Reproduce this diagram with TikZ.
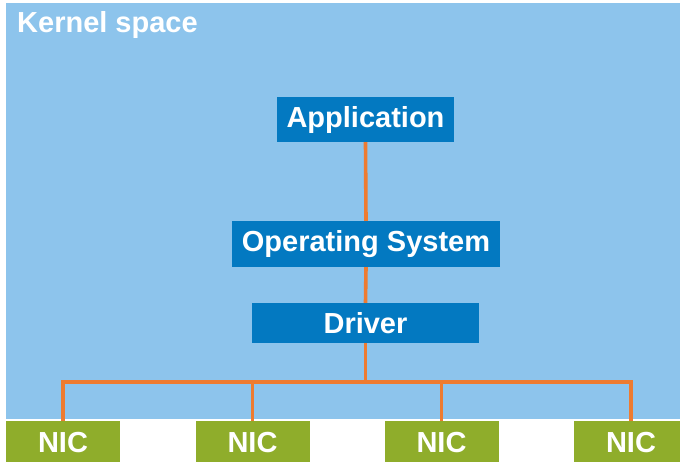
\documentclass[tikz,border=0pt]{standalone}
\usepackage{fontspec}
\setmainfont{Liberation Sans}
\definecolor{kernelbg}{HTML}{8DC4EC}
\definecolor{boxblue}{HTML}{0379C1}
\definecolor{wire}{HTML}{EE7B30}
\definecolor{nicgreen}{HTML}{8FAD2B}
\begin{document}
\begin{tikzpicture}[x=1pt,y=-1pt,
  lbl/.style={font=\fontsize{29}{32}\selectfont\bfseries, text=white},
  layerbox/.style={lbl, fill=boxblue, inner sep=0pt, minimum height=45pt},
  nicbox/.style={lbl, fill=nicgreen, inner sep=0pt, minimum width=114pt, minimum height=42pt},
  link/.style={draw=wire, line width=3.6pt}]
  \useasboundingbox (0,0) rectangle (680,461);
  % kernel space area
  \fill[kernelbg] (6,3) rectangle (680,419);
  \node[lbl, anchor=base west, inner sep=0pt] (title) at (17,32) {Kernel space};
  % software stack
  \node[layerbox, minimum width=177pt] (app) at (365.5,119.5) {Application};
  \node[layerbox, minimum width=268pt, minimum height=46pt] (os) at (366,244) {Operating System};
  \node[layerbox, minimum width=227pt, minimum height=40pt] (drv) at (365.5,323) {Driver};
  % network cards
  \node[nicbox, anchor=north] (nic1) at (63,421) {NIC};
  \node[nicbox, anchor=north] (nic2) at (252.5,421) {NIC};
  \node[nicbox, anchor=north] (nic3) at (441.5,421) {NIC};
  \node[nicbox, anchor=north] (nic4) at (631,421) {NIC};
  \coordinate (bus) at (365.5,382);
  % connectors
  \draw[link] (app.south) -- (os.north);
  \draw[link] (os.south) -- (drv.north);
  \draw[link] (drv.south) -- (bus);
  \draw[link] (nic1.north) -- (nic1.north |- bus) -- (bus);
  \draw[link] (nic2.north) -- (nic2.north |- bus);
  \draw[link] (nic3.north) -- (nic3.north |- bus);
  \draw[link] (nic4.north) -- (nic4.north |- bus) -- (bus);
\end{tikzpicture}
\end{document}
